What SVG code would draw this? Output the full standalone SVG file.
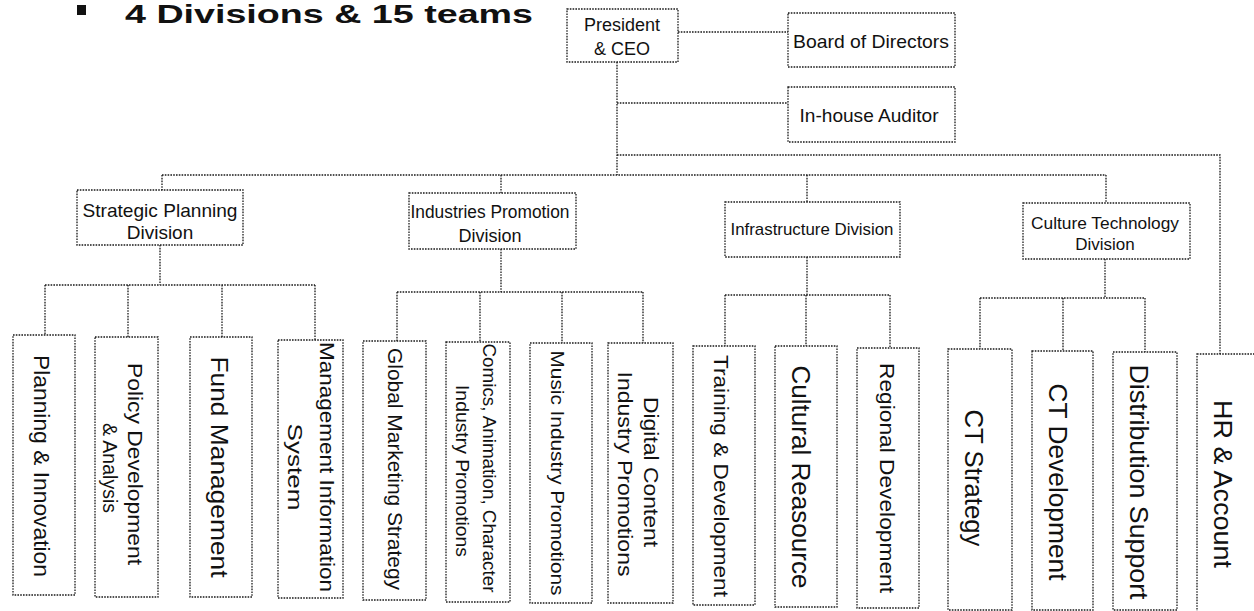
<svg xmlns="http://www.w3.org/2000/svg" width="1254" height="611" viewBox="0 0 1254 611">
<style>
.box{fill:#fff;stroke:#1a1a1a;stroke-width:1.3;stroke-dasharray:1.6 1.2}
.ln{fill:none;stroke:#1a1a1a;stroke-width:1.3;stroke-dasharray:1.6 1.2}
text{font-family:"Liberation Sans",Arial,sans-serif;fill:#111}
.c{text-anchor:middle}
.v{text-anchor:middle}
</style>
<rect width="1254" height="611" fill="#fff"/>
<g id="title">
<rect x="77" y="5" width="9" height="10" fill="#111"/>
<text x="125" y="23" font-size="26" font-weight="bold" textLength="408" lengthAdjust="spacingAndGlyphs">4 Divisions &amp; 15 teams</text>
</g>
<g id="connectors">
<path class="ln" d="M678,32H788"/>
<path class="ln" d="M617,62V175"/>
<path class="ln" d="M617,103H788"/>
<path class="ln" d="M617,155H1220V354"/>
<path class="ln" d="M162,175H1106"/>
<path class="ln" d="M162,175V190"/>
<path class="ln" d="M501,175V193"/>
<path class="ln" d="M807,175V202"/>
<path class="ln" d="M1106,175V203"/>
<path class="ln" d="M160,245V285M45,285H315M45,285V335M128,285V337M222,285V337M315,285V340"/>
<path class="ln" d="M501,249V292M397,292H643M397,292V341M480,292V342M562,292V343M643,292V343"/>
<path class="ln" d="M807,257V295M725,295H890M725,295V346M806,295V346M890,295V348"/>
<path class="ln" d="M1105,259V298M980,298H1145M980,298V349M1063,298V351M1145,298V352"/>
</g>
<g id="president">
<rect class="box" x="567" y="9" width="111" height="53"/>
<text class="c" x="622" y="31" font-size="18">President</text>
<text class="c" x="622" y="55" font-size="18">&amp; CEO</text>
</g>
<g id="board">
<rect class="box" x="788" y="13" width="167" height="54"/>
<text class="c" x="871" y="48" font-size="19" textLength="156" lengthAdjust="spacingAndGlyphs">Board of Directors</text>
</g>
<g id="auditor">
<rect class="box" x="788" y="87" width="167" height="55"/>
<text class="c" x="869" y="122" font-size="19" textLength="139" lengthAdjust="spacingAndGlyphs">In-house Auditor</text>
</g>
<g id="div-strategic">
<rect class="box" x="77" y="190" width="166" height="55"/>
<text class="c" x="160" y="217" font-size="19" textLength="155" lengthAdjust="spacingAndGlyphs">Strategic Planning</text>
<text class="c" x="160" y="239" font-size="19">Division</text>
</g>
<g id="div-industries">
<rect class="box" x="409" y="193" width="167" height="56"/>
<text class="c" x="490" y="218" font-size="18" textLength="159" lengthAdjust="spacingAndGlyphs">Industries Promotion</text>
<text class="c" x="490" y="242" font-size="18">Division</text>
</g>
<g id="div-infra">
<rect class="box" x="725" y="202" width="175" height="55"/>
<text class="c" x="812" y="235" font-size="17" textLength="163" lengthAdjust="spacingAndGlyphs">Infrastructure Division</text>
</g>
<g id="div-ct">
<rect class="box" x="1023" y="203" width="167" height="56"/>
<text class="c" x="1105" y="229" font-size="17" textLength="148" lengthAdjust="spacingAndGlyphs">Culture Technology</text>
<text class="c" x="1105" y="250" font-size="17">Division</text>
</g>
<g id="team-planning">
<rect class="box" x="13" y="335" width="62" height="260"/>
<text class="v" transform="translate(42,466) rotate(90)" dy=".35em" font-size="22" textLength="222" lengthAdjust="spacingAndGlyphs">Planning &amp; Innovation</text>
</g>
<g id="team-policy">
<rect class="box" x="95" y="337" width="63" height="260"/>
<text class="v" transform="translate(135,464) rotate(90)" dy=".35em" font-size="20" textLength="202" lengthAdjust="spacingAndGlyphs">Policy Development</text>
<text class="v" transform="translate(110,468) rotate(90)" dy=".35em" font-size="20" textLength="90" lengthAdjust="spacingAndGlyphs">&amp; Analysis</text>
</g>
<g id="team-fund">
<rect class="box" x="190" y="337" width="62" height="260"/>
<text class="v" transform="translate(219,467) rotate(90)" dy=".35em" font-size="24" textLength="221" lengthAdjust="spacingAndGlyphs">Fund Management</text>
</g>
<g id="team-mis">
<rect class="box" x="278" y="340" width="65" height="258"/>
<text class="v" transform="translate(327,467) rotate(90)" dy=".35em" font-size="21" textLength="250" lengthAdjust="spacingAndGlyphs">Management Information</text>
<text class="v" transform="translate(295,467) rotate(90)" dy=".35em" font-size="21" textLength="87" lengthAdjust="spacingAndGlyphs">System</text>
</g>
<g id="team-global">
<rect class="box" x="363" y="341" width="63" height="259"/>
<text class="v" transform="translate(395,469) rotate(90)" dy=".35em" font-size="20" textLength="242" lengthAdjust="spacingAndGlyphs">Global Marketing Strategy</text>
</g>
<g id="team-comics">
<rect class="box" x="446" y="342" width="64" height="260"/>
<text class="v" transform="translate(489,468) rotate(90)" dy=".35em" font-size="18" textLength="249" lengthAdjust="spacingAndGlyphs">Comics, Animation, Character</text>
<text class="v" transform="translate(462,471) rotate(90)" dy=".35em" font-size="18" textLength="172" lengthAdjust="spacingAndGlyphs">Industry Promotions</text>
</g>
<g id="team-music">
<rect class="box" x="530" y="343" width="62" height="260"/>
<text class="v" transform="translate(558,473) rotate(90)" dy=".35em" font-size="19" textLength="245" lengthAdjust="spacingAndGlyphs">Music Industry Promotions</text>
</g>
<g id="team-digital">
<rect class="box" x="608" y="343" width="65" height="260"/>
<text class="v" transform="translate(651,472) rotate(90)" dy=".35em" font-size="21" textLength="150" lengthAdjust="spacingAndGlyphs">Digital Content</text>
<text class="v" transform="translate(625,474) rotate(90)" dy=".35em" font-size="21" textLength="205" lengthAdjust="spacingAndGlyphs">Industry Promotions</text>
</g>
<g id="team-training">
<rect class="box" x="693" y="346" width="62" height="259"/>
<text class="v" transform="translate(721,476) rotate(90)" dy=".35em" font-size="20" textLength="242" lengthAdjust="spacingAndGlyphs">Training &amp; Development</text>
</g>
<g id="team-cultural">
<rect class="box" x="775" y="346" width="62" height="261"/>
<text class="v" transform="translate(801,477) rotate(90)" dy=".35em" font-size="25" textLength="223" lengthAdjust="spacingAndGlyphs">Cultural Reasource</text>
</g>
<g id="team-regional">
<rect class="box" x="857" y="348" width="62" height="260"/>
<text class="v" transform="translate(887,478) rotate(90)" dy=".35em" font-size="20" textLength="230" lengthAdjust="spacingAndGlyphs">Regional Development</text>
</g>
<g id="team-ctstrategy">
<rect class="box" x="948" y="349" width="64" height="261"/>
<text class="v" transform="translate(974,478) rotate(90)" dy=".35em" font-size="25" textLength="137" lengthAdjust="spacingAndGlyphs">CT Strategy</text>
</g>
<g id="team-ctdev">
<rect class="box" x="1032" y="351" width="61" height="259"/>
<text class="v" transform="translate(1058,482) rotate(90)" dy=".35em" font-size="25" textLength="197" lengthAdjust="spacingAndGlyphs">CT Development</text>
</g>
<g id="team-distribution">
<rect class="box" x="1113" y="352" width="64" height="258"/>
<text class="v" transform="translate(1139,482) rotate(90)" dy=".35em" font-size="25" textLength="235" lengthAdjust="spacingAndGlyphs">Distribution Support</text>
</g>
<g id="team-hr">
<rect class="box" x="1197" y="354" width="90" height="280"/>
<text class="v" transform="translate(1223,484) rotate(90)" dy=".35em" font-size="25" textLength="168" lengthAdjust="spacingAndGlyphs">HR &amp; Account</text>
</g>
</svg>
